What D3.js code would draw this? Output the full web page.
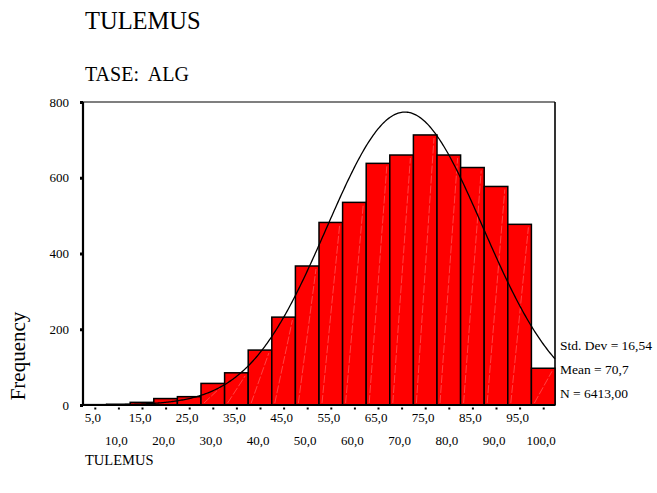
<!DOCTYPE html>
<html>
<head>
<meta charset="utf-8">
<script src="https://cdn.jsdelivr.net/npm/d3@7"></script>
<style>
  html, body { margin: 0; padding: 0; background: #fff; }
  svg { display: block; }
  text { font-family: "Liberation Serif", serif; fill: #000; white-space: pre; }
</style>
</head>
<body>
<svg id="chart" width="657" height="493"></svg>
<script>
// ---- data ----
const binCenters = [5, 10, 15, 20, 25, 30, 35, 40, 45, 50, 55, 60, 65, 70, 75, 80, 85, 90, 95, 100];
const frequencies = [1, 2, 7, 17, 22, 57, 85, 145, 232, 367, 482, 535, 638, 660, 713, 660, 627, 577, 477, 97];
const yTicks = [0, 200, 400, 600, 800];
const xTickLabels = ["5,0","10,0","15,0","20,0","25,0","30,0","35,0","40,0","45,0","50,0","55,0","60,0","65,0","70,0","75,0","80,0","85,0","90,0","95,0","100,0"];
const statLabels = ["Std. Dev = 16,54", "Mean = 70,7", "N = 6413,00"];
const statValues = { sd: 16.54, mean: 70.7, n: 6413 };
const binWidth = 5;
const titleText = "TULEMUS";
const subtitleText = "TASE:  ALG";
const yAxisTitle = "Frequency";
const xAxisTitle = "TULEMUS";

// ---- layout ----
const svg = d3.select("#chart");
const FONT = "Liberation Serif, serif";
const pLeft = 83, pRight = 555, pTop = 102, pBottom = 405;

const x = d3.scaleLinear().domain([binCenters[0] - binWidth / 2, binCenters[binCenters.length - 1] + binWidth / 2]).range([pLeft, pRight]);
const y = d3.scaleLinear().domain([0, 800]).range([pBottom, pTop]);

// titles
svg.append("text").attr("x", 85).attr("y", 29).attr("font-family", FONT).attr("font-size", 24.5).text(titleText);
svg.append("text").attr("x", 85).attr("y", 81).attr("font-family", FONT).attr("font-size", 20)
  .attr("xml:space", "preserve").text(subtitleText);

// frame: top & right
svg.append("line").attr("x1", pLeft).attr("x2", pRight).attr("y1", pTop).attr("y2", pTop)
  .attr("stroke", "#555").attr("stroke-width", 1.6);
svg.append("line").attr("x1", pRight).attr("x2", pRight).attr("y1", pTop).attr("y2", pBottom)
  .attr("stroke", "#000").attr("stroke-width", 1.6);

// bars
const bars = svg.append("g");
bars.selectAll("rect").data(binCenters).join("rect")
  .attr("x", (d) => x(d - binWidth / 2))
  .attr("width", x(binWidth) - x(0))
  .attr("y", (d, i) => y(frequencies[i]))
  .attr("height", (d, i) => y(0) - y(frequencies[i]))
  .attr("fill", "#ff0000")
  .attr("stroke", "#000")
  .attr("stroke-width", 1.5);

// faint diagonal lines inside bars
bars.selectAll("line.diag").data(binCenters.filter((d, i) => frequencies[i] > 30)).join("line")
  .attr("class", "diag")
  .attr("x1", (d) => x(d - binWidth / 2) + 3)
  .attr("x2", (d) => x(d + binWidth / 2) - 3)
  .attr("y1", pBottom - 2)
  .attr("y2", (d) => y(frequencies[binCenters.indexOf(d)]) + 3)
  .attr("stroke", "#ff7070")
  .attr("stroke-width", 0.6)
  .attr("stroke-dasharray", "8,2");

// normal curve
const curveXs = d3.range(x.domain()[0], x.domain()[1] + 0.001, 0.25);
const normal = (v) => statValues.n * binWidth / (statValues.sd * Math.sqrt(2 * Math.PI)) *
  Math.exp(-0.5 * Math.pow((v - statValues.mean) / statValues.sd, 2));
svg.append("path")
  .datum(curveXs)
  .attr("d", d3.line().x((d) => x(d)).y((d) => y(normal(d))))
  .attr("fill", "none")
  .attr("stroke", "#000")
  .attr("stroke-width", 1.3);

// y axis
const yAxis = d3.axisLeft(y).tickValues(yTicks).tickSize(3).tickPadding(11).tickFormat(d3.format("d"));
const gy = svg.append("g").attr("transform", `translate(${pLeft},0)`).call(yAxis);
gy.attr("font-family", FONT);
gy.select(".domain").attr("stroke", "#000").attr("stroke-width", 2.2).attr("d", `M0,${pTop}V${pBottom}`);
gy.selectAll(".tick line").attr("stroke", "#000").attr("stroke-width", 3).attr("x2", -3);
gy.selectAll(".tick text").attr("font-size", 13);

// x axis
const xAxis = d3.axisBottom(x).tickValues(binCenters).tickSize(3).tickFormat(() => "");
const gx = svg.append("g").attr("transform", `translate(0,${pBottom})`).call(xAxis);
gx.select(".domain").attr("stroke", "#000").attr("stroke-width", 2.2).attr("d", `M${pLeft - 1},0H${pRight}`);
gx.selectAll(".tick line").attr("stroke", "#000").attr("stroke-width", 2).attr("y1", 2.5).attr("y2", 4.5);

// staggered labels
svg.append("g").selectAll("text").data(binCenters).join("text")
  .attr("x", (d) => x(d) - 2)
  .attr("y", (d, i) => i % 2 === 0 ? 422 : 445)
  .attr("text-anchor", "middle")
  .attr("font-family", FONT)
  .attr("font-size", 13)
  .text((d, i) => xTickLabels[i]);

// axis titles
svg.append("text")
  .attr("transform", "translate(25,356) rotate(-90)")
  .attr("text-anchor", "middle")
  .attr("font-family", FONT)
  .attr("font-size", 21)
  .text(yAxisTitle);
svg.append("text").attr("x", 85).attr("y", 465).attr("font-family", FONT).attr("font-size", 14.5).text(xAxisTitle);

// stats
svg.append("g").selectAll("text").data(statLabels).join("text")
  .attr("x", 560)
  .attr("y", (d, i) => 350 + i * 24)
  .attr("font-family", FONT)
  .attr("font-size", 13.5)
  .text((d) => d);
</script>
</body>
</html>
